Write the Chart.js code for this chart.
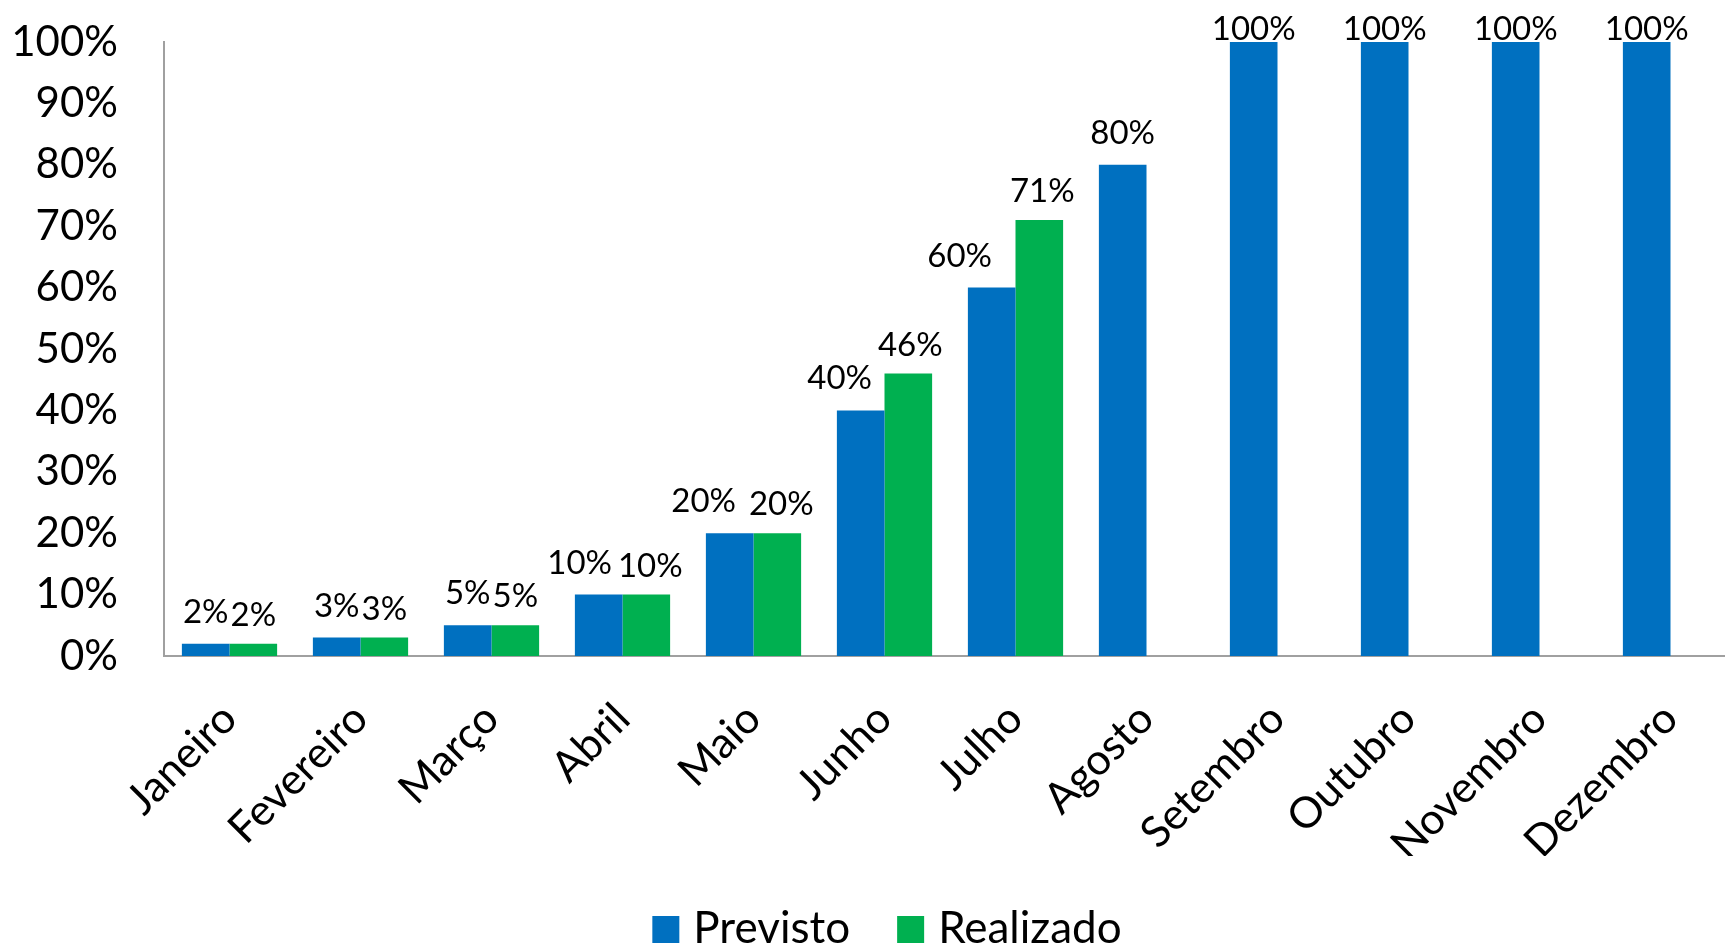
<!DOCTYPE html>
<html lang="pt">
<head>
<meta charset="utf-8">
<title>Previsto x Realizado</title>
<script src="https://cdn.jsdelivr.net/npm/chart.js@4/dist/chart.umd.min.js"></script>
<style>
  html, body { margin: 0; padding: 0; background: #fff; overflow: hidden; }
  #chart { display: block; }
</style>
</head>
<body>
<canvas id="chart" width="1736" height="949"></canvas>
<script>
"use strict";

// chart data
const months = ["Janeiro", "Fevereiro", "Março", "Abril", "Maio", "Junho",
  "Julho", "Agosto", "Setembro", "Outubro", "Novembro", "Dezembro"];
const previsto = [2, 3, 5, 10, 20, 40, 60, 80, 100, 100, 100, 100];
const realizado = [2, 3, 5, 10, 20, 46, 71, null, null, null, null, null];
const seriesNames = ["Previsto", "Realizado"];
const seriesColors = ["#0070C0", "#00B050"];
const yTicks = [0, 10, 20, 30, 40, 50, 60, 70, 80, 90, 100];

// sideways nudges (px) of the value labels that were moved apart in the original
const labelNudgePrevisto = [0, 0, 0, -19, -26, -21, -32, 0, 0, 0, 0, 0];
const labelNudgeRealizado = [0, 0, 0, 4, 4, 2, 3, 0, 0, 0, 0, 0];

const FONT = "Lato, 'Open Sans', sans-serif";
const AXIS_GRAY = "#a0a0a0";

// value labels above each bar (kept inside the top of the canvas like Excel does)
const barLabels = {
  id: "barLabels",
  afterDatasetsDraw(chart) {
    const ctx = chart.ctx;
    const nudges = [labelNudgePrevisto, labelNudgeRealizado];
    const lift = [21, 18];
    ctx.save();
    ctx.font = "33px " + FONT;
    ctx.fillStyle = "#000";
    ctx.textAlign = "center";
    ctx.textBaseline = "alphabetic";
    chart.data.datasets.forEach((ds, i) => {
      chart.getDatasetMeta(i).data.forEach((bar, j) => {
        const v = ds.data[j];
        if (v === null || v === undefined) return;
        const y = Math.max(bar.y - lift[i], 40);
        ctx.fillText(v + "%", bar.x + nudges[i][j], y);
      });
    });
    ctx.restore();
  }
};

// legend drawn by hand so box/text spacing matches the original
const bottomLegend = {
  id: "bottomLegend",
  afterDraw(chart) {
    const ctx = chart.ctx;
    const box = 27, gap = 14, itemGap = 47, baseline = 943, centerX = 887;
    ctx.save();
    ctx.font = "44px " + FONT;
    ctx.textBaseline = "alphabetic";
    ctx.textAlign = "left";
    const items = chart.data.datasets.map(ds => ({
      label: ds.label, color: ds.backgroundColor, w: ctx.measureText(ds.label).width
    }));
    const total = items.reduce((acc, it) => acc + box + gap + it.w, 0) + itemGap * (items.length - 1);
    let x = centerX - total / 2;
    items.forEach(it => {
      ctx.fillStyle = it.color;
      ctx.fillRect(x, baseline - box, box, box);
      ctx.fillStyle = "#000";
      ctx.fillText(it.label, x + box + gap, baseline);
      x += box + gap + it.w + itemGap;
    });
    ctx.restore();
  }
};

const ctx = document.getElementById("chart").getContext("2d");
new Chart(ctx, {
  type: "bar",
  data: {
    labels: months,
    datasets: [
      { label: seriesNames[0], data: previsto, backgroundColor: seriesColors[0] },
      { label: seriesNames[1], data: realizado, backgroundColor: seriesColors[1] }
    ]
  },
  options: {
    responsive: false,
    animation: false,
    devicePixelRatio: 1,
    categoryPercentage: 0.727,
    barPercentage: 1,
    layout: { padding: { top: 42, left: 0, right: 0, bottom: 93 } },
    scales: {
      x: {
        grid: { display: false, drawTicks: false },
        border: { display: true, color: AXIS_GRAY, width: 2 },
        ticks: {
          autoSkip: false,
          minRotation: 45,
          maxRotation: 45,
          padding: 51,
          color: "#000",
          font: { family: FONT, size: 43, lineHeight: 0.3 }
        },
        afterFit(scale) { scale.height = 200; }
      },
      y: {
        min: 0,
        max: 100,
        afterBuildTicks(scale) { scale.ticks = yTicks.map(v => ({ value: v })); },
        // invisible tick marks give the label gap without padding the plot top
        grid: { display: false, drawTicks: true, tickLength: 42 },
        border: { display: true, color: AXIS_GRAY, width: 2 },
        ticks: {
          padding: 4,
          color: "#000",
          font: { family: FONT, size: 42 },
          callback: v => v + "%"
        },
        afterFit(scale) { scale.width = 164; }
      }
    },
    plugins: {
      legend: { display: false },
      tooltip: { enabled: false }
    }
  },
  plugins: [barLabels, bottomLegend]
});
</script>
</body>
</html>
